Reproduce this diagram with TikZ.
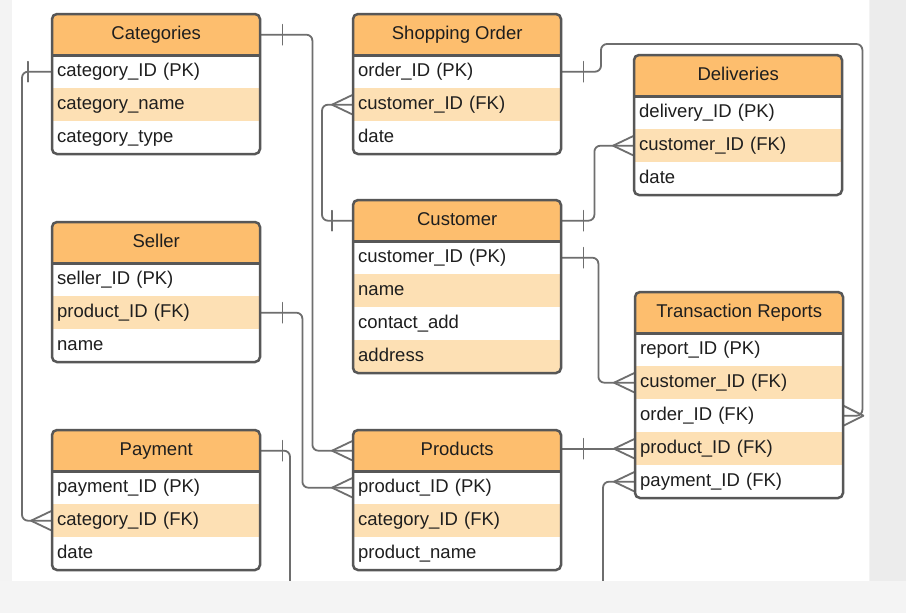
\documentclass[tikz,border=0pt]{standalone}
\usepackage{fontspec}
\setmainfont{Liberation Sans}
\usetikzlibrary{calc}
\definecolor{hdrc}{HTML}{FDBE6E}
\definecolor{ltc}{HTML}{FDE0B4}
\definecolor{framec}{HTML}{575757}
\definecolor{connc}{HTML}{6E6E6E}
\definecolor{txtc}{HTML}{1E1E1E}
\definecolor{bgl}{HTML}{F3F3F3}
\definecolor{bgr}{HTML}{ECECEC}
\definecolor{bgb}{HTML}{F4F4F4}
\pgfdeclarelayer{bglayer}
\pgfsetlayers{bglayer,main}
\tikzset{
  hdr/.style={anchor=north west, fill=hdrc, minimum width=208pt, minimum height=41pt,
    inner xsep=0pt, inner ysep=0pt, text height=13.5pt, text depth=4pt,
    font=\fontsize{18.5pt}{22pt}\selectfont, text=txtc},
  rowst/.style={anchor=north west, text width=198pt, inner xsep=5pt, inner ysep=0pt,
    minimum height=33pt, align=left, text height=13.5pt, text depth=4pt,
    font=\fontsize{18.5pt}{22pt}\selectfont, text=txtc},
  sepline/.style={draw=framec, line width=2.5pt},
  frame/.style={draw=framec, line width=2.5pt, rounded corners=5pt},
  conn/.style={draw=connc, line width=1.8pt, rounded corners=6pt},
  mk/.style={draw=connc, line width=1.8pt, line cap=round},
}
% #1 name, #2 x, #3 y, #4 title, #5 number of rows, #6 rows
\newcommand{\ertab}[6]{%
  \begin{scope}
    \clip[rounded corners=5pt] (#2,#3) rectangle ++(208,41+33*#5);
    \node[hdr] (#1-h) at (#2,#3) {#4};
    \foreach \t [count=\i] in {#6}{%
      \ifodd\i\def\rc{white}\else\def\rc{ltc}\fi
      \node[rowst, fill=\rc] (#1-\i) at (#2,#3+8+33*\i) {\t};
    }
  \end{scope}
  \draw[sepline] (#1-h.south west) -- (#1-h.south east);
  \draw[frame] (#2,#3) rectangle ++(208,41+33*#5);
}
\newcommand{\crowW}[1]{\draw[mk] ($(#1)+(-21,0)$) -- ($(#1)+(0,-10)$) ($(#1)+(-21,0)$) -- ($(#1)+(0,10)$);}
\newcommand{\crowE}[1]{\draw[mk] ($(#1)+(20,0)$) -- ($(#1)+(0,-10)$) ($(#1)+(20,0)$) -- ($(#1)+(0,10)$);}
\newcommand{\tickmk}[2]{\draw[mk] ($(#1)+(#2,-10)$) -- ($(#1)+(#2,10)$);}
\begin{document}
\begin{tikzpicture}[x=1pt,y=-1pt]
\useasboundingbox (0,0) rectangle (906,613);

% tables
\ertab{cat}{52}{14}{Categories}{3}{category\_ID (PK),category\_name,category\_type}
\ertab{so}{353}{14}{Shopping Order}{3}{order\_ID (PK),customer\_ID (FK),date}
\ertab{del}{634}{55}{Deliveries}{3}{delivery\_ID (PK),customer\_ID (FK),date}
\ertab{cust}{353}{200}{Customer}{4}{customer\_ID (PK),name,contact\_add,address}
\ertab{sel}{52}{222}{Seller}{3}{seller\_ID (PK),product\_ID (FK),name}
\ertab{pay}{52}{430}{Payment}{3}{payment\_ID (PK),category\_ID (FK),date}
\ertab{prod}{353}{430}{Products}{3}{product\_ID (PK),category\_ID (FK),product\_name}
\ertab{tr}{635}{292}{Transaction Reports}{5}{report\_ID (PK),customer\_ID (FK),order\_ID (FK),product\_ID (FK),payment\_ID (FK)}

\begin{pgfonlayer}{bglayer}
% background
\fill[bgl] (0,0) rectangle (906,613);
\fill[white] (12,0) rectangle (869,581);
\fill[bgr] (870,0) rectangle (906,581);

% connectors
\draw[conn] (cat-h.east) -- ++(52,0) |- (prod-h.west);
\draw[conn] (cat-1.west) -- ++(-30,0) |- (pay-2.west);
\draw[conn] (so-1.east) -| (601,44) -| ($(tr-3.east)+(19,0)$) -- (tr-3.east);
\draw[conn] (cust-h.west) -- ++(-31,0) |- (so-2.west);
\draw[conn] (cust-h.east) -- ++(33,0) |- (del-2.west);
\draw[conn] (cust-1.east) -- ++(37,0) |- (tr-2.west);
\draw[conn] (sel-2.east) -- ++(42,0) |- (prod-1.west);
\coordinate (payend) at (290,590);
\draw[conn] (pay-h.east) -| (payend);
\draw[conn] (tr-4.west -| prod-h.east) -- (tr-4.west);
\coordinate (trend) at (603,590);
\draw[conn] (tr-5.west) -| (trend);

% ends
\tickmk{cat-h.east}{22}
\crowW{prod-h.west}
\tickmk{cat-1.west}{-24}
\crowW{pay-2.west}
\tickmk{so-1.east}{22}
\crowE{tr-3.east}
\tickmk{cust-h.west}{-21}
\crowW{so-2.west}
\tickmk{cust-h.east}{22}
\crowW{del-2.west}
\tickmk{cust-1.east}{22}
\crowW{tr-2.west}
\tickmk{sel-2.east}{22}
\crowW{prod-1.west}
\tickmk{pay-h.east}{22}
\tickmk{tr-4.west -| prod-h.east}{22}
\crowW{tr-4.west}
\crowW{tr-5.west}
\end{pgfonlayer}

% bottom band
\fill[bgb] (0,581) rectangle (906,613);
\end{tikzpicture}
\end{document}
